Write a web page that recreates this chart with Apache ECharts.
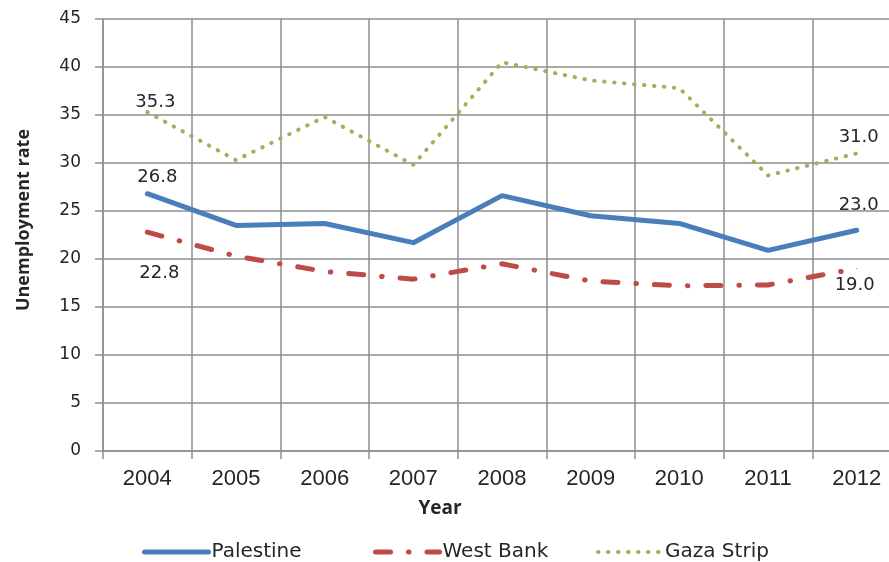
<!DOCTYPE html>
<html>
<head>
<meta charset="utf-8">
<script src="https://cdn.jsdelivr.net/npm/echarts@6/dist/echarts.min.js"></script>
<style>
  html, body { margin: 0; padding: 0; background: #fff; }
  #chart { width: 889px; height: 562px; }
</style>
</head>
<body>
<div id="chart"></div>
<script>
// Unemployment rate by region, 2004-2012
const years = ['2004', '2005', '2006', '2007', '2008', '2009', '2010', '2011', '2012'];
const palestine = [26.8, 23.5, 23.7, 21.7, 26.6, 24.5, 23.7, 20.9, 23.0];
const westBank  = [22.8, 20.3, 18.7, 17.9, 19.5, 17.7, 17.2, 17.3, 19.0];
const gazaStrip = [35.3, 30.3, 34.8, 29.8, 40.5, 38.6, 37.8, 28.7, 31.0];
const seriesNames = ['Palestine', 'West Bank', 'Gaza Strip'];
const yTicks = [0, 5, 10, 15, 20, 25, 30, 35, 40, 45];

const colors = { 'Palestine': '#4a7ebb', 'West Bank': '#be4b48', 'Gaza Strip': '#98b55c' };
const textColor = '#262626';
const gridColor = '#8e8e8e';

const lineStyles = {
  'Palestine': { width: 5, type: 'solid', cap: 'round', join: 'round' },
  'West Bank': { width: 5, type: [15, 18, 0.5, 18], cap: 'round' },
  'Gaza Strip': { width: 4, type: [0.5, 9.5], cap: 'round' }
};

// Value labels shown only on the first and last year of each line
function withEndLabels(values, firstOffset, lastOffset) {
  return values.map((v, i) => {
    if (i !== 0 && i !== values.length - 1) return v;
    return {
      value: v,
      symbol: 'circle',
      symbolSize: 1,
      label: {
        show: true,
        position: 'inside',
        offset: i === 0 ? firstOffset : lastOffset,
        formatter: p => p.value.toFixed(1),
        color: textColor,
        fontFamily: 'DejaVu Sans',
        fontSize: 18
      }
    };
  });
}

function legendFor(name, left) {
  const ls = lineStyles[name];
  return {
    left: left,
    top: 537,
    itemWidth: 64,
    itemHeight: 14,
    itemGap: 6,
    data: [name],
    itemStyle: { color: 'rgba(0,0,0,0)', borderWidth: 0, opacity: 0 },
    lineStyle: { width: ls.width, type: ls.type, cap: ls.cap, color: colors[name] },
    textStyle: { color: textColor, fontFamily: 'DejaVu Sans', fontSize: 20, padding: [0, 0, 0, -2] }
  };
}

const chart = echarts.init(document.getElementById('chart'), null, { renderer: 'canvas' });

chart.setOption({
  animation: false,
  backgroundColor: '#ffffff',
  grid: { left: 103, top: 19, width: 798, height: 432, containLabel: false, outerBoundsMode: 'none' },
  xAxis: {
    type: 'category',
    data: years,
    boundaryGap: true,
    axisLine: { show: true, lineStyle: { color: gridColor, width: 1.5 } },
    axisTick: { show: true, alignWithLabel: false, length: 8, lineStyle: { color: gridColor, width: 1.5 } },
    splitLine: { show: true, lineStyle: { color: gridColor, width: 1.5 } },
    axisLabel: { margin: 17, color: textColor, fontFamily: 'Liberation Sans', fontSize: 22 }
  },
  yAxis: {
    type: 'value',
    min: yTicks[0],
    max: yTicks[yTicks.length - 1],
    interval: yTicks[1] - yTicks[0],
    axisLine: { show: true, lineStyle: { color: gridColor, width: 1.5 } },
    axisTick: { show: true, length: 8, lineStyle: { color: gridColor, width: 1.5 } },
    splitLine: { show: true, lineStyle: { color: gridColor, width: 1.5 } },
    axisLabel: { margin: 22, color: textColor, fontFamily: 'DejaVu Sans', fontSize: 17 }
  },
  legend: [
    legendFor(seriesNames[0], 137),
    legendFor(seriesNames[1], 368),
    legendFor(seriesNames[2], 591)
  ],
  graphic: [
    {
      type: 'text',
      x: 440, y: 509,
      style: {
        text: 'Year', fill: textColor,
        font: 'bold 19px "Open Sans"',
        align: 'center', verticalAlign: 'middle'
      }
    },
    {
      type: 'text',
      x: 24, y: 220,
      rotation: Math.PI / 2,
      style: {
        text: 'Unemployment rate', fill: textColor,
        font: 'bold 18px "Open Sans"',
        align: 'center', verticalAlign: 'middle'
      }
    }
  ],
  series: seriesNames.map((name, k) => {
    const values = [palestine, westBank, gazaStrip][k];
    const offsets = [
      [[10, -16], [2, -25]],
      [[12, 41], [-2, 17]],
      [[8, -10], [2, -16]]
    ][k];
    return {
      name: name,
      type: 'line',
      symbol: 'none',
      data: withEndLabels(values, offsets[0], offsets[1]),
      itemStyle: { color: colors[name] },
      lineStyle: Object.assign({ color: colors[name] }, lineStyles[name]),
      z: 4 - k
    };
  })
});
</script>
</body>
</html>
